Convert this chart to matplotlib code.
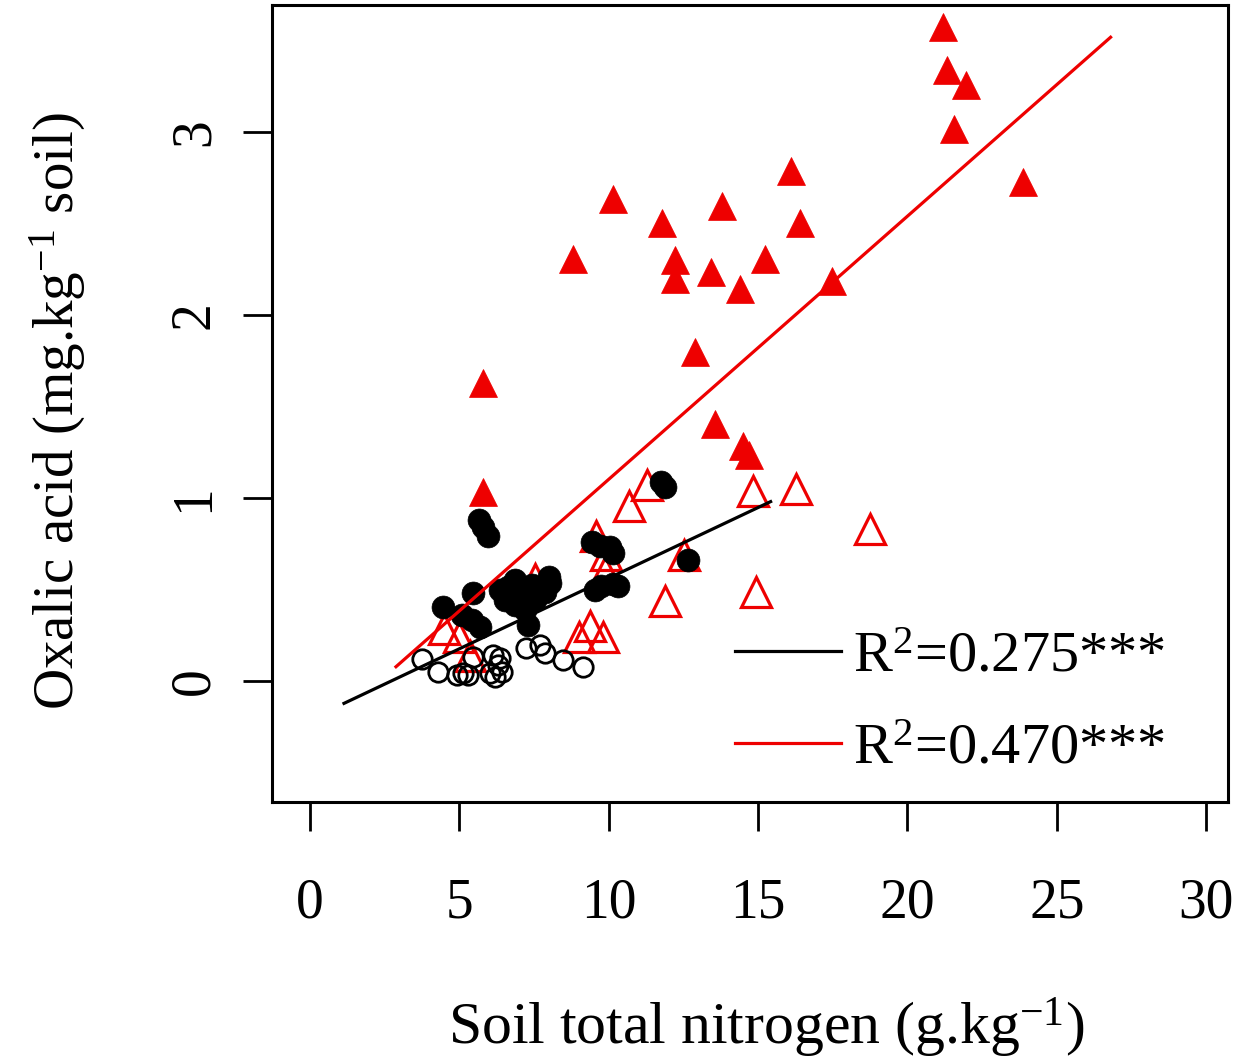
import matplotlib
matplotlib.use("Agg")
import matplotlib.pyplot as plt
import numpy as np
from matplotlib.lines import Line2D

plt.rcParams['font.family'] = ['Liberation Serif', 'DejaVu Serif']
plt.rcParams['mathtext.fontset'] = 'custom'
plt.rcParams['mathtext.rm'] = 'Liberation Serif'
plt.rcParams['mathtext.it'] = 'Liberation Serif:italic'

# ---- data ----
# filled red triangles
red_fill_x = [21.19, 21.33, 21.96, 21.56, 23.87, 16.09, 16.40, 10.13, 8.82, 11.77, 13.79,
              12.23, 12.21, 13.41, 15.24, 14.40, 17.47, 12.89, 13.56, 14.51, 14.68, 5.78, 5.78]
red_fill_y = [3.575, 3.339, 3.258, 3.018, 2.727, 2.787, 2.504, 2.632, 2.306, 2.504, 2.597,
              2.299, 2.196, 2.237, 2.306, 2.142, 2.186, 1.80, 1.403, 1.286, 1.233, 1.627, 1.035]
# open red triangles
red_open_x = [11.27, 10.68, 14.82, 16.26, 18.73, 9.57, 9.90, 12.52, 9.86, 11.88, 14.93,
              9.36, 9.80, 9.00, 7.55, 4.48, 4.99, 5.36]
red_open_y = [1.071, 0.957, 1.037, 1.051, 0.83, 0.795, 0.69, 0.69, 0.597, 0.436, 0.484,
              0.30, 0.238, 0.240, 0.557, 0.285, 0.242, 0.138]
# filled black circles
blk_fill_x = [4.46, 5.47, 5.08, 5.41, 5.69, 6.36, 6.64, 6.53, 6.86, 7.09, 7.42, 7.19, 7.31,
              7.53, 8.03, 7.87, 6.86, 8.00, 5.65, 5.80, 5.95, 11.75, 11.90, 9.45, 9.70,
              10.05, 10.15, 9.55, 9.75, 10.15, 10.30, 12.67]
blk_fill_y = [0.406, 0.479, 0.361, 0.333, 0.297, 0.497, 0.515, 0.443, 0.415, 0.497, 0.525,
              0.388, 0.306, 0.443, 0.534, 0.488, 0.552, 0.57, 0.88, 0.84, 0.79, 1.09, 1.06,
              0.76, 0.74, 0.735, 0.70, 0.50, 0.52, 0.53, 0.52, 0.661]
# open black circles
blk_open_x = [3.74, 4.27, 4.91, 5.13, 5.30, 5.47, 6.14, 6.36, 6.03, 6.19, 6.42, 6.30,
              7.24, 7.70, 7.87, 8.48, 9.15]
blk_open_y = [0.118, 0.051, 0.033, 0.045, 0.035, 0.133, 0.142, 0.124, 0.042, 0.023, 0.051,
              0.09, 0.178, 0.197, 0.151, 0.115, 0.075]

# regression lines: x range and (slope, intercept)
black_fit_range = [1.14, 15.42]
black_fit_coef = [0.0772, -0.210]
red_fit_range = [2.88, 26.80]
red_fit_coef = [0.1438, -0.336]

legend_labels = ["R$^2$=0.275***", "R$^2$=0.470***"]
x_ticks = [0, 5, 10, 15, 20, 25, 30]
y_ticks = [0, 1, 2, 3]

RED = '#ee0000'

fig = plt.figure(figsize=(12.5, 10.64), dpi=100)
ax = fig.add_axes([272/1250, 1-802/1064, (1228-272)/1250, (802-5)/1064])

ax.plot(red_open_x, red_open_y, linestyle='none', marker='^', ms=22, mfc='none',
        mec=RED, mew=2.3, zorder=2)
ax.plot(blk_open_x, blk_open_y, linestyle='none', marker='o', ms=14, mfc='none',
        mec='black', mew=2.0, zorder=3)
ax.plot(blk_fill_x, blk_fill_y, linestyle='none', marker='o', ms=16.5, mfc='black',
        mec='black', mew=0.5, zorder=4)
ax.plot(red_fill_x, red_fill_y, linestyle='none', marker='^', ms=20, mfc=RED,
        mec=RED, mew=0.5, zorder=5)

bx = np.array(black_fit_range)
rx = np.array(red_fit_range)
ax.plot(bx, black_fit_coef[0]*bx + black_fit_coef[1], color='black', lw=2.3, zorder=6)
ax.plot(rx, red_fit_coef[0]*rx + red_fit_coef[1], color=RED, lw=2.3, zorder=6)

ax.set_xlim(-1.27, 30.73)
ax.set_ylim(-0.661, 3.694)
ax.set_xticks(x_ticks)
ax.set_yticks(y_ticks)
ax.set_xticklabels([str(t) for t in x_ticks], fontsize=40)
ax.set_yticklabels([str(t) for t in y_ticks], fontsize=40, rotation=90, va='center')
ax.tick_params(axis='both', length=21, width=2.0, direction='out', color='black')
ax.tick_params(axis='x', pad=33)
ax.tick_params(axis='y', pad=16)
for s in ax.spines.values():
    s.set_linewidth(2.2)

ax.set_xlabel("Soil total nitrogen (g.kg$^{-1}$)", fontsize=43, labelpad=48)
ax.xaxis.label.set_x(0.517)
ax.set_ylabel("Oxalic acid (mg.kg$^{-1}$ soil)", fontsize=41, labelpad=58)
ax.yaxis.label.set_y(0.49)

handles = [Line2D([], [], color='black', lw=2.3), Line2D([], [], color=RED, lw=2.3)]
ax.legend(handles, legend_labels, loc='center left', bbox_to_anchor=(0.484, 0.1245),
          frameon=False, fontsize=42, handlelength=1.82, handletextpad=0.2,
          labelspacing=0.67, borderpad=0, borderaxespad=0)

fig.savefig("out.png", dpi=100)
